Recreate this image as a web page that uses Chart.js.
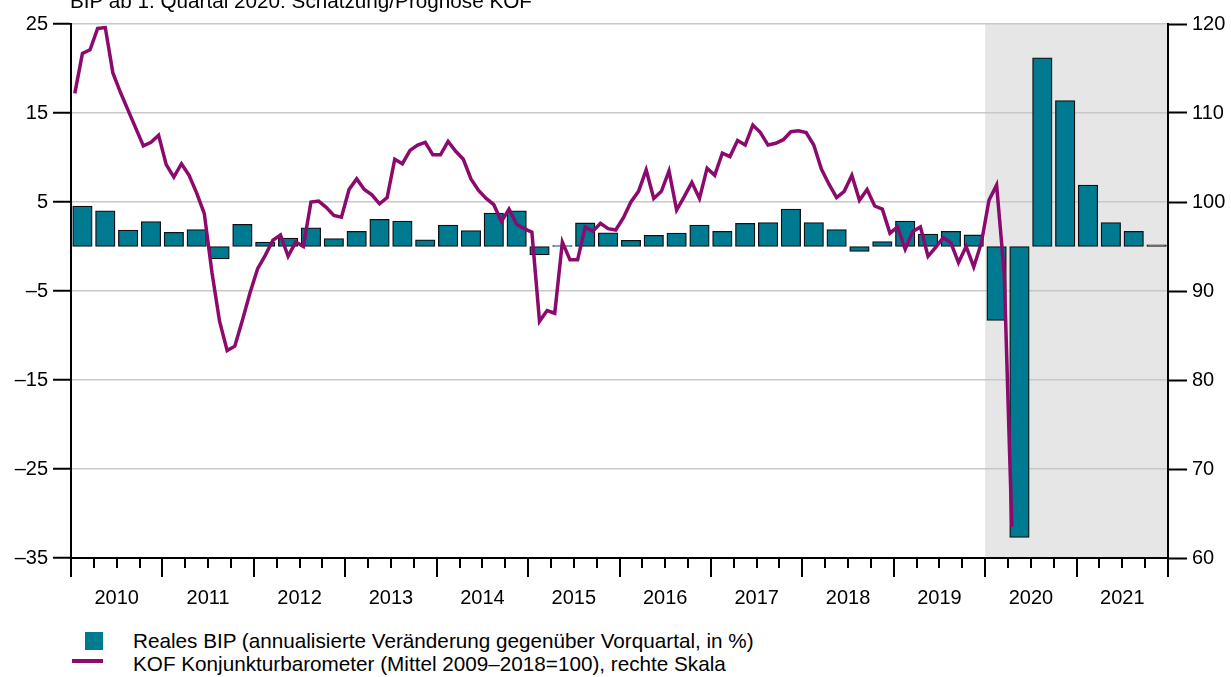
<!DOCTYPE html>
<html>
<head>
<meta charset="utf-8">
<script src="https://cdn.jsdelivr.net/npm/chart.js@4/dist/chart.umd.min.js"></script>
<style>
  body { margin: 0; background: #fff; font-family: "Liberation Sans", Arial, sans-serif; color: #000; }
  #wrap { position: relative; width: 1231px; height: 677px; overflow: hidden; }
  #box { position: absolute; left: 0; top: 0; width: 1231px; height: 620px; }
  .note { position: absolute; left: 70px; top: -10px; font-size: 20.7px; line-height: 22px; white-space: nowrap; }
  .leg { position: absolute; left: 133px; font-size: 20.7px; line-height: 22px; white-space: nowrap; }
  .sw-bar { position: absolute; left: 85px; top: 632px; width: 18px; height: 18px; background: #007a91; }
  .sw-line { position: absolute; left: 72px; top: 659px; width: 31px; height: 3.5px; background: #8c0a6e; }
</style>
</head>
<body>
<div id="wrap">
  <div id="box"><canvas id="chart"></canvas></div>
  <div class="note">BIP ab 1. Quartal 2020: Schätzung/Prognose KOF</div>
  <div class="sw-bar"></div>
  <div class="leg" style="top:630px">Reales BIP (annualisierte Veränderung gegenüber Vorquartal, in %)</div>
  <div class="sw-line"></div>
  <div class="leg" style="top:653px">KOF Konjunkturbarometer (Mittel 2009–2018=100), rechte Skala</div>
</div>
<script>
// years on the x axis (one label per year, quarterly bars, monthly line)
const years = ['2010', '2011', '2012', '2013', '2014', '2015', '2016', '2017', '2018', '2019', '2020', '2021'];

// real GDP, annualised q/q change in %, 2010 Q1 .. 2021 Q4
const bipValues = [
  4.55, 4.0, 1.85, 2.8,
  1.6, 1.9, -1.4, 2.5,
  0.5, 0.95, 2.1, 0.9,
  1.7, 3.05, 2.85, 0.75,
  2.4, 1.8, 3.75, 4.0,
  -0.95, 0.1, 2.65, 1.55,
  0.7, 1.25, 1.5, 2.4,
  1.7, 2.6, 2.7, 4.2,
  2.7, 1.9, -0.55, 0.55,
  2.85, 1.4, 1.7, 1.3,
  -8.3, -32.7, 21.2, 16.4,
  6.9, 2.7, 1.7, 0.2
];

// KOF barometer, monthly, Jan 2010 .. Apr 2020
const kofValues = [
  112.2, 116.7, 117.1, 119.5, 119.6, 114.5, 112.3, 110.3, 108.3, 106.3, 106.7, 107.5,
  104.2, 102.8, 104.3, 103.0, 101.0, 98.7, 92.1, 86.6, 83.3, 83.8, 86.7, 89.8,
  92.5, 94.0, 95.7, 96.3, 93.9, 95.5, 95.0, 100.0, 100.1, 99.4, 98.5, 98.3,
  101.4, 102.6, 101.4, 100.8, 99.8, 100.5, 104.8, 104.3, 105.8, 106.4, 106.7, 105.3,
  105.3, 106.8, 105.7, 104.8, 102.6, 101.3, 100.4, 99.7, 97.8, 99.2, 97.5, 97.0,
  96.6, 86.6, 87.8, 87.5, 95.5, 93.5, 93.5, 97.2, 96.7, 97.6, 97.0, 96.85,
  98.2, 100.0, 101.2, 103.6, 100.4, 101.2, 103.5, 99.1, 100.6, 102.2, 100.4, 103.8,
  103.0, 105.5, 105.1, 106.9, 106.4, 108.65, 107.8, 106.4, 106.6, 107.0, 107.9, 108.0,
  107.8, 106.4, 103.7, 102.0, 100.5, 101.2, 103.0, 100.2, 101.4, 99.55, 99.2, 96.5,
  97.2, 94.7, 96.7, 97.2, 93.9, 94.9, 96.0, 95.4, 93.2, 95.0, 92.7, 95.4,
  100.2, 101.9, 92.0, 63.5
];

const leftTicks = { min: -35, max: 25, step: 10 };
const rightTicks = { min: 60, max: 120, step: 10 };
const forecastStart = 120; // month index where the KOF estimate starts (2020 Q1)

// x axis counts months from Jan 2010
const bipPoints = bipValues.map((v, i) => ({ x: i * 3 + 1.5, y: v }));
const kofPoints = kofValues.map((v, i) => ({ x: i + 0.5, y: v }));

const fmtMinus = v => (v < 0 ? '–' + Math.abs(v) : String(v));

// grey band behind the forecast period
const shadePlugin = {
  id: 'shade',
  beforeDraw(chart) {
    const { ctx, chartArea, scales } = chart;
    const x0 = scales.x.getPixelForValue(forecastStart);
    ctx.save();
    ctx.fillStyle = '#e6e6e6';
    ctx.fillRect(x0, chartArea.top, chartArea.right - x0, chartArea.bottom - chartArea.top);
    ctx.restore();
  }
};

// quarter ticks short, year ticks long, below the x axis
const xTickPlugin = {
  id: 'xticks',
  afterDraw(chart) {
    const { ctx, chartArea, scales } = chart;
    const y0 = chartArea.bottom;
    ctx.save();
    ctx.strokeStyle = '#000';
    ctx.lineWidth = 2;
    for (let m = 0; m <= years.length * 12; m += 3) {
      const px = Math.round(scales.x.getPixelForValue(m));
      const len = m % 12 === 0 ? 19 : 10;
      ctx.beginPath();
      ctx.moveTo(px, y0);
      ctx.lineTo(px, y0 + len);
      ctx.stroke();
    }
    ctx.restore();
  }
};

Chart.defaults.font.family = '"Liberation Sans", Arial, sans-serif';
Chart.defaults.font.size = 20;
Chart.defaults.color = '#000';

new Chart(document.getElementById('chart'), {
  data: {
    datasets: [
      {
        type: 'line',
        label: 'KOF Konjunkturbarometer (Mittel 2009–2018=100), rechte Skala',
        data: kofPoints,
        yAxisID: 'y1',
        borderColor: '#8c0a6e',
        borderWidth: 3.5,
        pointRadius: 0,
        tension: 0,
        fill: false
      },
      {
        type: 'bar',
        label: 'Reales BIP (annualisierte Veränderung gegenüber Vorquartal, in %)',
        data: bipPoints,
        yAxisID: 'y',
        backgroundColor: '#007a91',
        borderColor: '#111',
        borderWidth: 1.3,
        borderSkipped: false,
        barThickness: 19.5
      }
    ]
  },
  options: {
    responsive: true,
    maintainAspectRatio: false,
    animation: false,
    layout: { padding: { top: 24, left: 0, right: 0, bottom: 0 } },
    plugins: {
      legend: { display: false },
      tooltip: { enabled: false }
    },
    scales: {
      x: {
        type: 'linear',
        offset: false,
        min: 0,
        max: years.length * 12,
        afterFit: s => { s.height = 62; s.paddingLeft = 0; s.paddingRight = 0; },
        border: { display: true, color: '#000', width: 2 },
        grid: { offset: false, drawOnChartArea: false, drawTicks: true, tickLength: 19, tickColor: 'rgba(0,0,0,0)' },
        ticks: {
          stepSize: 3,
          autoSkip: false,
          maxRotation: 0,
          padding: 9,
          callback: v => (v % 12 === 6 ? years[(v - 6) / 12] : '')
        }
      },
      y: {
        position: 'left',
        min: leftTicks.min,
        max: leftTicks.max,
        afterFit: s => { s.width = 71; },
        border: { display: true, color: '#000', width: 2 },
        grid: { color: '#c8c8c8', lineWidth: 1.5, tickColor: '#000', tickWidth: 2, tickLength: 18 },
        ticks: { stepSize: leftTicks.step, padding: 5, callback: fmtMinus }
      },
      y1: {
        position: 'right',
        min: rightTicks.min,
        max: rightTicks.max,
        afterFit: s => { s.width = 63; },
        border: { display: true, color: '#000', width: 2 },
        grid: { drawOnChartArea: false, tickColor: '#000', tickWidth: 2, tickLength: 19 },
        ticks: { stepSize: rightTicks.step, padding: 5 }
      }
    }
  },
  plugins: [shadePlugin, xTickPlugin]
});
</script>
</body>
</html>
